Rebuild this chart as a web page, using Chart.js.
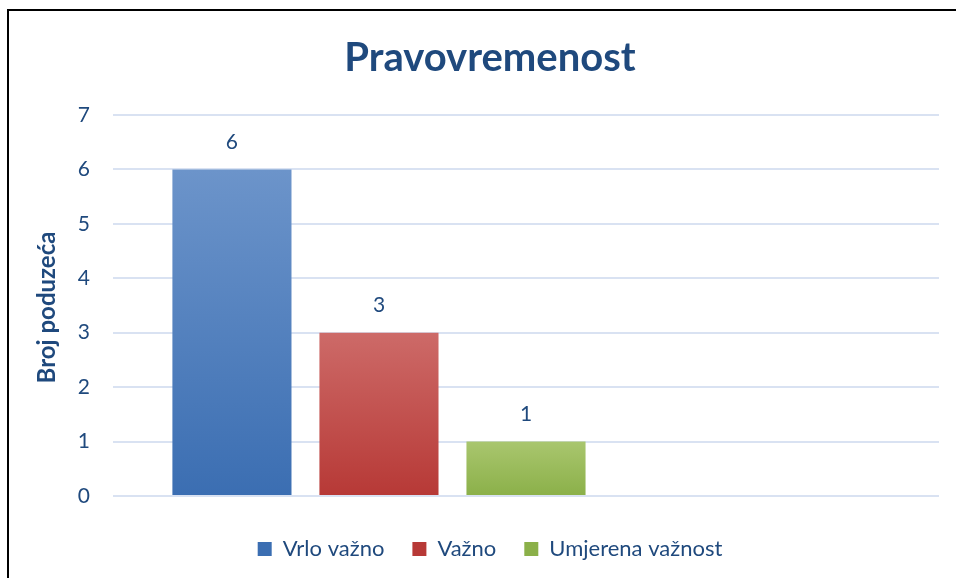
<!DOCTYPE html>
<html>
<head>
<meta charset="utf-8">
<script src="https://cdn.jsdelivr.net/npm/chart.js@4.4.1/dist/chart.umd.min.js"></script>
<style>
  html, body { margin: 0; padding: 0; background: #fff; overflow: hidden; }
  #box { position: absolute; left: 7px; top: 9px; width: 966px; height: 578px; border: 2px solid #000; background: #fff; }
</style>
</head>
<body>
<div id="box"><canvas id="myChart" width="966" height="578"></canvas></div>
<script>
var categories = [''];
var seriesNames = ['Vrlo važno', 'Važno', 'Umjerena važnost', '', ''];
var seriesValues = [[6], [3], [1], [null], [null]];
var yTicks = [0, 1, 2, 3, 4, 5, 6, 7];
var yAxisTitle = 'Broj poduzeća';

var topColors = ['#6c94ca', '#cd6a68', '#a9c66e', '#ffffff', '#ffffff'];
var bottomColors = ['#3b6eb2', '#b73936', '#8bb049', '#ffffff', '#ffffff'];
var textColor = '#1f497d';
var font = 'Lato, "Open Sans", sans-serif';

function barFill(i) {
    return function(context) {
        var chart = context.chart;
        var y = chart.scales.y;
        var v = context.raw;
        if (!chart.chartArea || !y || v == null) return bottomColors[i];
        var top = y.getPixelForValue(v);
        var base = y.getPixelForValue(0);
        var g = chart.ctx.createLinearGradient(0, top, 0, base);
        g.addColorStop(0, topColors[i]);
        g.addColorStop(1, bottomColors[i]);
        return g;
    };
}

// value labels above bars + the rotated y axis title
var extraText = {
    id: 'extraText',
    afterDatasetsDraw: function(chart) {
        var ctx = chart.ctx;
        var area = chart.chartArea;
        ctx.save();
        ctx.font = '21px ' + font;
        ctx.fillStyle = textColor;
        ctx.textAlign = 'center';
        ctx.textBaseline = 'middle';
        chart.data.datasets.forEach(function(ds, i) {
            var meta = chart.getDatasetMeta(i);
            meta.data.forEach(function(bar, j) {
                var v = ds.data[j];
                if (v == null) return;
                ctx.fillText(String(v), bar.x, bar.y - 27);
            });
        });
        ctx.font = 'bold 24px ' + font;
        ctx.translate(38, (area.top + area.bottom) / 2 + 2);
        ctx.rotate(-Math.PI / 2);
        ctx.fillText(yAxisTitle, 0, 0);
        ctx.restore();
    }
};

var datasets = seriesNames.map(function(name, i) {
    return {
        label: name,
        data: seriesValues[i],
        backgroundColor: barFill(i),
        borderWidth: 0,
        categoryPercentage: 0.89,
        barPercentage: 0.81
    };
});

var ctx = document.getElementById('myChart').getContext('2d');
var myChart = new Chart(ctx, {
    type: 'bar',
    data: { labels: categories, datasets: datasets },
    plugins: [extraText],
    options: {
        responsive: false,
        animation: false,
        layout: { padding: { left: 32, right: 36, top: 0, bottom: 19 } },
        plugins: {
            title: {
                display: true,
                text: 'Pravovremenost',
                color: textColor,
                font: { family: font, size: 40, weight: 'bold' },
                padding: { top: 23, bottom: 33 }
            },
            legend: {
                position: 'bottom',
                labels: {
                    color: textColor,
                    font: { family: font, size: 22 },
                    boxWidth: 14,
                    boxHeight: 14,
                    padding: 28,
                    filter: function(item) { return item.text !== ''; },
                    generateLabels: function(chart) {
                        return chart.data.datasets.map(function(ds, i) {
                            return {
                                text: ds.label,
                                fillStyle: bottomColors[i],
                                strokeStyle: bottomColors[i],
                                lineWidth: 0,
                                fontColor: textColor,
                                datasetIndex: i
                            };
                        });
                    }
                }
            },
            tooltip: { enabled: false }
        },
        scales: {
            x: {
                ticks: { display: false },
                grid: { display: false, drawTicks: false },
                border: { display: false },
                afterFit: function(scale) { scale.height = 14; }
            },
            y: {
                min: 0,
                max: 7,
                afterBuildTicks: function(scale) {
                    scale.ticks = yTicks.map(function(v) { return { value: v }; });
                },
                ticks: {
                    color: textColor,
                    font: { family: font, size: 21 },
                    padding: 23
                },
                grid: { color: '#d9e2f2', lineWidth: 2, drawTicks: false },
                border: { display: false },
                afterFit: function(scale) { scale.width = 72; }
            }
        }
    }
});
</script>
</body>
</html>
